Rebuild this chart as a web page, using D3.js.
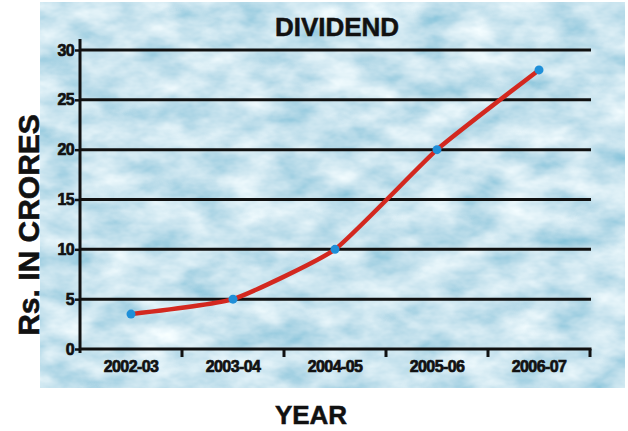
<!DOCTYPE html>
<html>
<head>
<meta charset="utf-8">
<script src="https://cdn.jsdelivr.net/npm/d3@7"></script>
<style>
  body { margin: 0; background: #fff; }
  text { font-family: "Liberation Sans", Arial, sans-serif; font-weight: bold; }
</style>
</head>
<body>
<script>
// chart data
var years = ["2002-03", "2003-04", "2004-05", "2005-06", "2006-07"];
var dividend = [3.5, 5, 10, 20, 28];
var yTicks = [0, 5, 10, 15, 20, 25, 30];

var W = 628, H = 431;
var margin = { top: 50, right: 38, bottom: 82, left: 80 }
    , width = W - margin.left - margin.right
    , height = H - margin.top - margin.bottom;

var svg = d3.select("body").append("svg")
    .attr("width", W)
    .attr("height", H);

// cloudy sky background
var defs = svg.append("defs");
var filt = defs.append("filter").attr("id", "clouds")
    .attr("x", 0).attr("y", 0).attr("width", "100%").attr("height", "100%");
filt.append("feTurbulence")
    .attr("type", "fractalNoise")
    .attr("baseFrequency", "0.022 0.04")
    .attr("numOctaves", 4)
    .attr("seed", 7);
filt.append("feColorMatrix")
    .attr("type", "matrix")
    .attr("values", "0.85 0 0 0 0.16  0.55 0 0 0 0.50  0.38 0 0 0 0.67  0 0 0 0 1");

svg.append("rect")
    .attr("x", 40).attr("y", 2)
    .attr("width", 585).attr("height", 386)
    .attr("fill", "#a9d0e2")
    .attr("filter", "url(#clouds)");

var g = svg.append("g")
    .attr("transform", "translate(" + margin.left + "," + margin.top + ")");

var xScale = d3.scaleBand()
    .domain(years)
    .range([0, width]);

var yScale = d3.scaleLinear()
    .domain([0, 30])
    .range([height, 0]);

// horizontal grid
g.append("g")
    .selectAll("line")
    .data(yTicks.filter(function (d) { return d > 0; }))
    .enter().append("line")
    .attr("x1", 0)
    .attr("x2", width + 1)
    .attr("y1", function (d) { return yScale(d); })
    .attr("y2", function (d) { return yScale(d); })
    .attr("stroke", "#111")
    .attr("stroke-width", 3);

// y axis
var yAxis = g.append("g")
    .call(d3.axisLeft(yScale).tickValues(yTicks).tickSize(5).tickPadding(1));
yAxis.select(".domain").remove();
yAxis.selectAll(".tick line").attr("stroke", "#111").attr("stroke-width", 2.5);
yAxis.selectAll(".tick text")
    .attr("fill", "#111")
    .attr("stroke", "#111")
    .attr("stroke-width", 0.7)
    .style("font-size", "16px")
    .style("letter-spacing", "-0.6px");
yAxis.append("line")
    .attr("x1", 0).attr("x2", 0)
    .attr("y1", height + 4).attr("y2", -11)
    .attr("stroke", "#111").attr("stroke-width", 3);

// x axis with ticks between the bands
var xg = g.append("g").attr("transform", "translate(0," + height + ")");
xg.append("line")
    .attr("x1", 0).attr("x2", width + 1.5)
    .attr("stroke", "#111").attr("stroke-width", 3);
xg.selectAll(".sep")
    .data(years)
    .enter().append("line")
    .attr("class", "sep")
    .attr("x1", function (d) { return xScale(d) + xScale.bandwidth(); })
    .attr("x2", function (d) { return xScale(d) + xScale.bandwidth(); })
    .attr("y1", 0).attr("y2", 8)
    .attr("stroke", "#111").attr("stroke-width", 3);
xg.selectAll(".lab")
    .data(years)
    .enter().append("text")
    .attr("x", function (d) { return xScale(d) + xScale.bandwidth() / 2; })
    .attr("y", 23)
    .attr("text-anchor", "middle")
    .attr("fill", "#111")
    .attr("stroke", "#111")
    .attr("stroke-width", 0.7)
    .style("font-size", "16px")
    .style("letter-spacing", "-0.6px")
    .text(function (d) { return d; });

// dividend line
var line = d3.line()
    .x(function (d, i) { return xScale(years[i]) + xScale.bandwidth() / 2; })
    .y(function (d) { return yScale(d); })
    .curve(d3.curveCardinal.tension(0.55));

g.append("path")
    .datum(dividend)
    .attr("fill", "none")
    .attr("stroke", "#d3281f")
    .attr("stroke-width", 4.5)
    .attr("stroke-linecap", "round")
    .attr("d", line);

g.selectAll(".dot")
    .data(dividend)
    .enter().append("circle")
    .attr("class", "dot")
    .attr("cx", function (d, i) { return xScale(years[i]) + xScale.bandwidth() / 2; })
    .attr("cy", function (d) { return yScale(d); })
    .attr("r", 4.5)
    .attr("fill", "#1f8fd8");

// titles
svg.append("text")
    .attr("x", 337).attr("y", 36)
    .attr("text-anchor", "middle")
    .attr("fill", "#111")
    .attr("stroke", "#111")
    .attr("stroke-width", 0.5)
    .style("font-size", "26px")
    .text("DIVIDEND");

svg.append("text")
    .attr("transform", "translate(39,225) rotate(-90)")
    .attr("text-anchor", "middle")
    .attr("fill", "#111")
    .attr("stroke", "#111")
    .attr("stroke-width", 0.6)
    .style("font-size", "30px")
    .text("Rs. IN CRORES");

svg.append("text")
    .attr("x", 311).attr("y", 424)
    .attr("text-anchor", "middle")
    .attr("fill", "#111")
    .attr("stroke", "#111")
    .attr("stroke-width", 0.5)
    .style("font-size", "26px")
    .text("YEAR");
</script>
</body>
</html>
